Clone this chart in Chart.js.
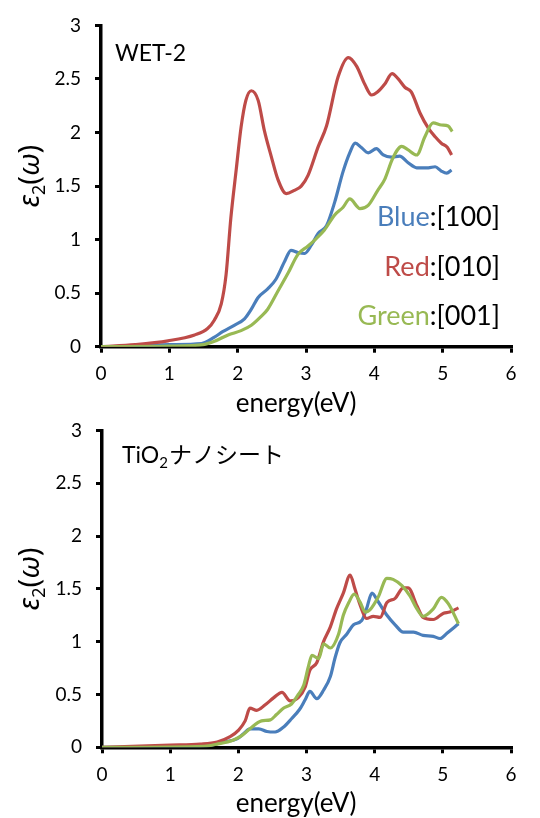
<!DOCTYPE html>
<html>
<head>
<meta charset="utf-8">
<script src="https://cdn.jsdelivr.net/npm/chart.js@4/dist/chart.umd.min.js"></script>
<style>
  body { margin: 0; background: #fff; }
  #wrap { position: relative; width: 540px; height: 818px; }
  canvas { position: absolute; left: 0; }
  #wet { top: 0; }
  #tio2 { top: 405px; }
</style>
</head>
<body>
<div id="wrap">
  <canvas id="wet" width="540" height="430"></canvas>
  <canvas id="tio2" width="540" height="413"></canvas>
</div>
<script>
// axis ranges
const energyMin = 0, energyMax = 6, energyStep = 1;
const epsMin = 0, epsMax = 3, epsStep = 0.5;

// WET-2
const wetBlueE = [0, 0.5, 1.0, 1.47, 1.66, 1.78, 1.95, 2.1, 2.2, 2.3, 2.44, 2.56, 2.69, 2.78, 2.88, 2.98, 3.08, 3.18, 3.3, 3.42, 3.54, 3.64, 3.72, 3.81, 3.91, 4.03, 4.13, 4.25, 4.37, 4.49, 4.62, 4.79, 4.89, 4.98, 5.06, 5.13];
const wetBlue = [0, 0.005, 0.02, 0.03, 0.09, 0.14, 0.20, 0.26, 0.35, 0.46, 0.54, 0.63, 0.80, 0.90, 0.88, 0.87, 0.95, 1.06, 1.13, 1.35, 1.63, 1.81, 1.90, 1.86, 1.81, 1.85, 1.79, 1.77, 1.78, 1.72, 1.67, 1.67, 1.68, 1.64, 1.62, 1.65];
const wetRedE = [0, 0.5, 0.98, 1.37, 1.56, 1.66, 1.76, 1.83, 1.9, 1.98, 2.05, 2.12, 2.2, 2.3, 2.39, 2.49, 2.59, 2.71, 2.83, 2.93, 3.03, 3.18, 3.3, 3.47, 3.62, 3.74, 3.86, 3.96, 4.05, 4.15, 4.26, 4.35, 4.45, 4.54, 4.67, 4.79, 4.89, 4.98, 5.07, 5.13];
const wetRed = [0, 0.02, 0.055, 0.11, 0.17, 0.25, 0.40, 0.67, 1.2, 1.66, 2.05, 2.30, 2.39, 2.30, 2.02, 1.78, 1.56, 1.43, 1.46, 1.50, 1.6, 1.87, 2.06, 2.52, 2.70, 2.62, 2.45, 2.35, 2.38, 2.45, 2.55, 2.50, 2.42, 2.38, 2.18, 2.04, 1.96, 1.90, 1.86, 1.79];
const wetGreenE = [0, 1.0, 1.5, 1.66, 1.86, 2.05, 2.2, 2.34, 2.44, 2.59, 2.74, 2.88, 3.03, 3.15, 3.27, 3.42, 3.54, 3.64, 3.79, 3.91, 4.05, 4.15, 4.27, 4.4, 4.49, 4.62, 4.74, 4.86, 4.98, 5.08, 5.14];
const wetGreen = [0, 0.005, 0.02, 0.05, 0.11, 0.15, 0.20, 0.28, 0.35, 0.52, 0.69, 0.86, 0.94, 1.01, 1.09, 1.23, 1.30, 1.38, 1.29, 1.32, 1.46, 1.56, 1.76, 1.87, 1.84, 1.79, 1.96, 2.09, 2.07, 2.06, 2.01];

// TiO2 nanosheet
const tioBlueE = [0, 1.5, 1.78, 1.98, 2.08, 2.17, 2.3, 2.42, 2.54, 2.66, 2.78, 2.9, 2.98, 3.05, 3.15, 3.25, 3.35, 3.42, 3.49, 3.59, 3.69, 3.81, 3.88, 3.96, 4.05, 4.18, 4.3, 4.42, 4.57, 4.71, 4.86, 4.96, 5.06, 5.23];
const tioBlue = [0, 0.01, 0.05, 0.08, 0.13, 0.175, 0.175, 0.15, 0.145, 0.19, 0.27, 0.36, 0.45, 0.53, 0.46, 0.54, 0.67, 0.85, 0.99, 1.07, 1.16, 1.20, 1.31, 1.46, 1.38, 1.25, 1.16, 1.09, 1.09, 1.06, 1.05, 1.03, 1.08, 1.17];
const tioRedE = [0, 1.0, 1.44, 1.69, 1.88, 2.0, 2.1, 2.17, 2.27, 2.39, 2.52, 2.64, 2.76, 2.88, 2.98, 3.05, 3.15, 3.25, 3.35, 3.44, 3.54, 3.64, 3.71, 3.79, 3.88, 3.98, 4.08, 4.18, 4.3, 4.42, 4.49, 4.62, 4.71, 4.86, 5.01, 5.1, 5.23];
const tioRed = [0, 0.02, 0.03, 0.05, 0.10, 0.16, 0.25, 0.37, 0.35, 0.40, 0.47, 0.52, 0.44, 0.47, 0.57, 0.73, 0.80, 1.00, 1.14, 1.31, 1.46, 1.63, 1.50, 1.34, 1.22, 1.24, 1.23, 1.37, 1.41, 1.51, 1.51, 1.34, 1.23, 1.21, 1.27, 1.28, 1.32];
const tioGreenE = [0, 1.5, 1.69, 1.93, 2.05, 2.17, 2.34, 2.47, 2.56, 2.66, 2.78, 2.88, 2.96, 3.03, 3.08, 3.18, 3.25, 3.35, 3.47, 3.54, 3.62, 3.7, 3.79, 3.86, 3.93, 4.05, 4.18, 4.27, 4.4, 4.52, 4.62, 4.71, 4.86, 4.98, 5.08, 5.23];
const tioGreen = [0, 0.01, 0.03, 0.07, 0.11, 0.175, 0.25, 0.26, 0.31, 0.37, 0.41, 0.50, 0.59, 0.77, 0.87, 0.84, 0.98, 0.94, 1.07, 1.25, 1.37, 1.45, 1.37, 1.28, 1.30, 1.42, 1.60, 1.59, 1.53, 1.43, 1.31, 1.24, 1.31, 1.42, 1.36, 1.17];

const legendNames = ["Blue", "Red", "Green"];
const legendDirs = [":[100]", ":[010]", ":[001]"];

const BLUE = "#4a7ebb", RED = "#be4b48", GREEN = "#98b954";
const FONT = "Lato, 'Noto Sans CJK JP', sans-serif";

function pts(xs, ys) {
  return xs.map((x, i) => ({ x: x, y: ys[i] }));
}

function line(xs, ys, color, order) {
  return {
    data: pts(xs, ys),
    borderColor: color,
    borderWidth: 3.2,
    pointRadius: 0,
    fill: false,
    cubicInterpolationMode: "monotone",
    order: order
  };
}

// draws "ε2(ω)" rotated, title text, x title and optional legend
function textPlugin(drawTitle, showLegend) {
  return {
    id: "texts",
    afterDraw(chart) {
      const ctx = chart.ctx;
      const a = chart.chartArea;
      ctx.save();
      ctx.fillStyle = "#000";
      ctx.textBaseline = "alphabetic";

      // x axis title
      ctx.font = "26px " + FONT;
      ctx.textAlign = "center";
      ctx.fillText("energy(eV)", 296, a.bottom + 65);

      // y axis title
      ctx.save();
      ctx.translate(39, (a.top + a.bottom) / 2 - 10);
      ctx.rotate(-Math.PI / 2);
      const parts = [
        { t: "\u03b5", f: "italic 29px 'Noto Sans'", dy: 0 },
        { t: "2", f: "18px 'Noto Sans'", dy: 6 },
        { t: "(", f: "29px 'Noto Sans'", dy: 0 },
        { t: "\u03c9", f: "italic 29px 'Noto Sans'", dy: 0 },
        { t: ")", f: "29px 'Noto Sans'", dy: 0 }
      ];
      let total = 0;
      parts.forEach(p => { ctx.font = p.f; p.w = ctx.measureText(p.t).width; total += p.w; });
      let px = -total / 2;
      ctx.textAlign = "left";
      parts.forEach(p => { ctx.font = p.f; ctx.fillText(p.t, px, p.dy); px += p.w; });
      ctx.restore();

      drawTitle(ctx, a);

      if (showLegend) {
        const colors = [BLUE, RED, GREEN];
        const base = [226, 276, 325];
        ctx.font = "27px " + FONT;
        ctx.textAlign = "right";
        for (let i = 0; i < 3; i++) {
          const w = ctx.measureText(legendDirs[i]).width;
          ctx.fillStyle = "#000";
          ctx.fillText(legendDirs[i], 500, base[i]);
          ctx.fillStyle = colors[i];
          ctx.fillText(legendNames[i], 500 - w, base[i]);
        }
      }
      ctx.restore();
    }
  };
}

function makeChart(id, datasets, leftW, xH, padTop, plugin) {
  return new Chart(document.getElementById(id), {
    type: "line",
    data: { datasets: datasets },
    options: {
      responsive: false,
      animation: false,
      layout: { padding: { top: padTop, right: 29, left: 0, bottom: 0 } },
      plugins: { legend: { display: false }, tooltip: { enabled: false } },
      scales: {
        x: {
          type: "linear",
          min: energyMin, max: energyMax,
          afterFit: s => { s.height = xH; },
          ticks: { stepSize: energyStep, color: "#000", font: { family: FONT, size: 19 }, padding: 10, maxRotation: 0 },
          grid: { drawOnChartArea: false, drawTicks: true, tickLength: 6, color: "#000", lineWidth: 3 },
          border: { display: true, color: "#000", width: 3.5 }
        },
        y: {
          min: epsMin, max: epsMax,
          afterFit: s => { s.width = leftW; },
          ticks: { stepSize: epsStep, color: "#000", font: { family: FONT, size: 19 }, padding: 14, callback: v => String(v) },
          grid: { drawOnChartArea: false, drawTicks: true, tickLength: 6, color: "#000", lineWidth: 3 },
          border: { display: true, color: "#000", width: 3.5 }
        }
      }
    },
    plugins: [plugin]
  });
}

makeChart("wet", [
  line(wetBlueE, wetBlue, BLUE, 3),
  line(wetRedE, wetRed, RED, 2),
  line(wetGreenE, wetGreen, GREEN, 1)
], 101, 430 - 346.7, 20.7, textPlugin(function (ctx, a) {
  ctx.font = "23px " + FONT;
  ctx.textAlign = "left";
  ctx.fillStyle = "#000";
  ctx.fillText("WET-2", 115, 61);
}, true));

makeChart("tio2", [
  line(tioBlueE, tioBlue, BLUE, 3),
  line(tioRedE, tioRed, RED, 2),
  line(tioGreenE, tioGreen, GREEN, 1)
], 102, 413 - 342.3, 16.7, textPlugin(function (ctx, a) {
  ctx.textAlign = "left";
  ctx.fillStyle = "#000";
  let x = 122;
  const y = 463 - 405;
  ctx.font = "23px " + FONT;
  ctx.fillText("TiO", x, y);
  x += ctx.measureText("TiO").width;
  ctx.font = "15px " + FONT;
  ctx.fillText("2", x, y + 5);
  x += ctx.measureText("2").width + 1;
  ctx.font = "23px 'Noto Sans CJK JP', sans-serif";
  ctx.fillText("\u30ca\u30ce\u30b7\u30fc\u30c8", x, y);
}, false));
</script>
</body>
</html>
